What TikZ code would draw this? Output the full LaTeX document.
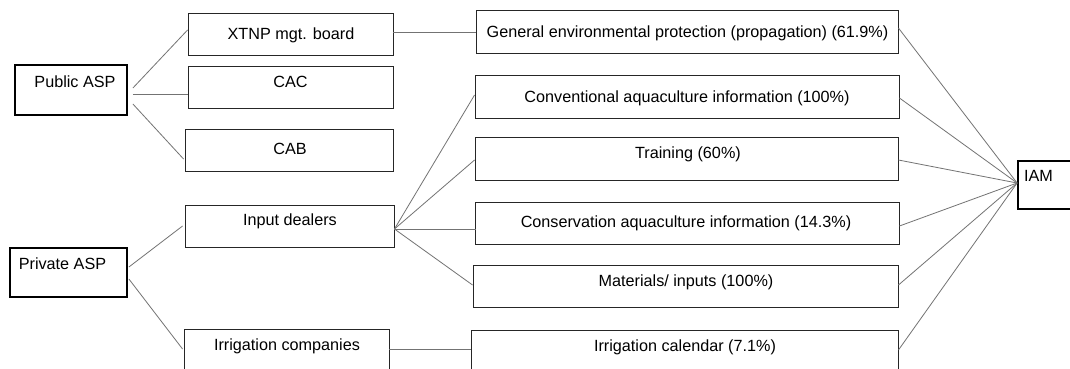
\documentclass[tikz,border=0pt]{standalone}
\usepackage{fontspec}
\setmainfont{Liberation Sans}
\begin{document}
\begin{tikzpicture}[x=1pt,y=-1pt]
\tikzset{
  box/.style={draw=black!85, line width=0.9pt, inner sep=0pt, rectangle},
  bigbox/.style={draw=black, line width=1.8pt, inner sep=0pt, rectangle},
  conn/.style={draw=black!55, line width=0.8pt},
  lbl/.style={anchor=base, inner sep=0pt, font=\fontsize{16.2}{19}\selectfont}
}
\useasboundingbox (0,0) rectangle (1070,368);
\clip (0,0) rectangle (1070,368);
\fill[white] (0,0) rectangle (1070,368);
% boxes
\node[bigbox, minimum width=112, minimum height=50] (pub) at (71,90) {};
\node[bigbox, minimum width=117, minimum height=49] (priv) at (68.5,272.5) {};
\node[box, minimum width=205, minimum height=42] (xtnp) at (290.5,34) {};
\node[box, minimum width=205, minimum height=42] (cac) at (290.5,87) {};
\node[box, minimum width=208, minimum height=42] (cab) at (289,150) {};
\node[box, minimum width=209, minimum height=42] (inp) at (289.5,226) {};
\node[box, minimum width=205, minimum height=42] (irc) at (286.5,350) {};
\node[box, minimum width=422, minimum height=43] (gen) at (687,31.5) {};
\node[box, minimum width=424, minimum height=43] (conv) at (687,96.5) {};
\node[box, minimum width=423, minimum height=43] (train) at (686.5,158.5) {};
\node[box, minimum width=424, minimum height=42] (cons) at (687,223) {};
\node[box, minimum width=425, minimum height=42] (mat) at (685.5,286) {};
\node[box, minimum width=427, minimum height=42] (ical) at (684.5,351) {};
\node[bigbox, minimum width=58, minimum height=48] (iam) at (1047,185) {};
% labels
\node[lbl] (tpub) at (75,87.5) {Public ASP};
\node[lbl] (tpriv) at (62.5,269) {Private ASP};
\node[lbl] (txtnp) at (291,39) {XTNP mgt. board};
\node[lbl] (tcac) at (290.5,87.5) {CAC};
\node[lbl] (tcab) at (290,154) {CAB};
\node[lbl] (tinp) at (290,225.7) {Input dealers};
\node[lbl] (tirc) at (287,350.3) {Irrigation companies};
\node[lbl] (tgen) at (687.5,37.5) {General environmental protection (propagation) (61.9\%)};
\node[lbl] (tconv) at (687,102) {Conventional aquaculture information (100\%)};
\node[lbl] (ttrain) at (688,158) {Training (60\%)};
\node[lbl] (tcons) at (686,227.7) {Conservation aquaculture information (14.3\%)};
\node[lbl] (tmat) at (686,286) {Materials/ inputs (100\%)};
\node[lbl] (tical) at (685,351.5) {Irrigation calendar (7.1\%)};
\node[lbl] (tiam) at (1038.5,181.7) {IAM};
% connectors
\draw[conn] ([shift={(5,-2)}]pub.east) -- ([shift={(0,-4)}]xtnp.west);
\draw[conn] ([shift={(5,4)}]pub.east) -- ([shift={(0,7)}]cac.west);
\draw[conn] ([shift={(5,14)}]pub.east) -- ([shift={(-1,9)}]cab.west);
\draw[conn] ([shift={(0,-2)}]xtnp.east) -- ([shift={(0,0.5)}]gen.west);
\draw[conn] ([shift={(1,-5.5)}]priv.east) -- ([shift={(-2,0)}]inp.west);
\draw[conn] ([shift={(1,6.5)}]priv.east) -- ([shift={(-1,-1)}]irc.west);
\draw[conn] ([shift={(0,3)}]inp.east) -- ([shift={(0,-1.5)}]conv.west);
\draw[conn] ([shift={(0,3)}]inp.east) -- ([shift={(0,1.5)}]train.west);
\draw[conn] ([shift={(0,3)}]inp.east) -- ([shift={(1,6)}]cons.west);
\draw[conn] ([shift={(0,3)}]inp.east) -- ([shift={(0,-1)}]mat.west);
\draw[conn] ([shift={(0,-1)}]irc.east) -- ([shift={(0,-2)}]ical.west);
\draw[conn] ([shift={(0,-3.5)}]gen.east) -- ([shift={(0,-2)}]iam.west);
\draw[conn] ([shift={(0,1.5)}]conv.east) -- ([shift={(0,-2)}]iam.west);
\draw[conn] ([shift={(0,1.5)}]train.east) -- ([shift={(0,-2)}]iam.west);
\draw[conn] ([shift={(0,3)}]cons.east) -- ([shift={(0,-2)}]iam.west);
\draw[conn] ([shift={(0,-1)}]mat.east) -- ([shift={(0,-2)}]iam.west);
\draw[conn] ([shift={(0,-1)}]ical.east) -- ([shift={(0,-2)}]iam.west);
\end{tikzpicture}
\end{document}
